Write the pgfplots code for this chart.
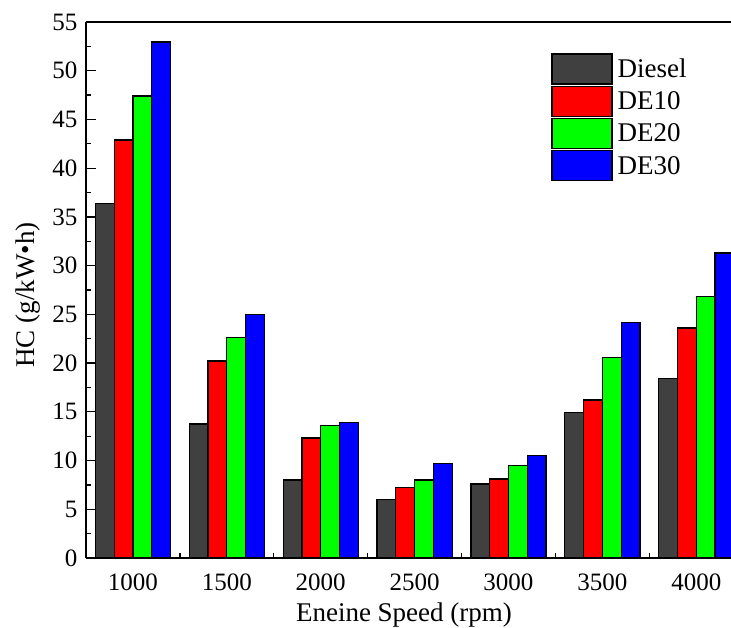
\documentclass[border=0pt]{standalone}
\usepackage{pgfplots}
\pgfplotsset{compat=1.18}
\usepackage{fontspec}
\setmainfont{Liberation Serif}
\definecolor{cgray}{HTML}{404040}
\begin{document}
\begin{tikzpicture}
\useasboundingbox (-86pt,-69pt) rectangle (645pt,558pt);
\begin{axis}[
  scale only axis, width=645pt, height=536pt,
  xmin=-0.5, xmax=6.37, ymin=0, ymax=55,
  axis x line*=box, axis y line*=left,
  axis line style={line width=1.3pt},
  ybar, bar width=0.2,
  xtick={0,1,2,3,4,5,6},
  xticklabels={1000,1500,2000,2500,3000,3500,4000},
  minor xtick={0.5,1.5,2.5,3.5,4.5,5.5},
  ytick={0,5,...,55}, minor ytick={2.5,7.5,...,52.5},
  tick align=inside, xtick pos=bottom, ytick pos=left,
  major tick length=10pt, minor tick length=5pt,
  major x tick style={draw=none},
  every tick/.style={line width=1.3pt, black},
  /pgf/number format/assume math mode=true,
  tick label style={font=\rmfamily\fontsize{25}{30}\selectfont},
  xticklabel style={anchor=base, yshift=-32pt},
  yticklabel style={xshift=-5pt},
  label style={font=\rmfamily\fontsize{27}{32}\selectfont},
  xlabel={Eneine Speed (rpm)}, ylabel={HC (g/kW•h)},
  xlabel style={at={([yshift=-63pt]rel axis cs:0.493,0)}, anchor=base},
  ylabel style={at={([xshift=-51pt]rel axis cs:0,0.4907)}, anchor=base},
  legend cell align=left,
  legend image code/.code={\draw[#1, line width=1.3pt] (0pt,-15pt) rectangle (60pt,15pt);},
  legend style={at={(rel axis cs:0.721,0.942)}, anchor=north west, draw=none, fill=none,
    font=\rmfamily\fontsize{27}{32}\selectfont, inner sep=0pt, row sep=1pt, column sep=3pt,
    nodes={inner sep=2pt}},
]
\addplot[draw=black, fill=cgray, line width=1.3pt, bar shift=-0.3] coordinates {(0,36.4) (1,13.75) (2,8.0) (3,6.0) (4,7.6) (5,14.9) (6,18.4)};
\addplot[draw=black, fill=red, line width=1.3pt, bar shift=-0.1] coordinates {(0,42.9) (1,20.2) (2,12.3) (3,7.2) (4,8.1) (5,16.2) (6,23.6)};
\addplot[draw=black, fill=green, line width=1.3pt, bar shift=0.1] coordinates {(0,47.4) (1,22.6) (2,13.6) (3,8.0) (4,9.5) (5,20.6) (6,26.8)};
\addplot[draw=black, fill=blue, line width=1.3pt, bar shift=0.3] coordinates {(0,52.95) (1,25.0) (2,13.9) (3,9.7) (4,10.5) (5,24.2) (6,31.3)};
\legend{Diesel,DE10,DE20,DE30}
\end{axis}
\end{tikzpicture}
\end{document}
